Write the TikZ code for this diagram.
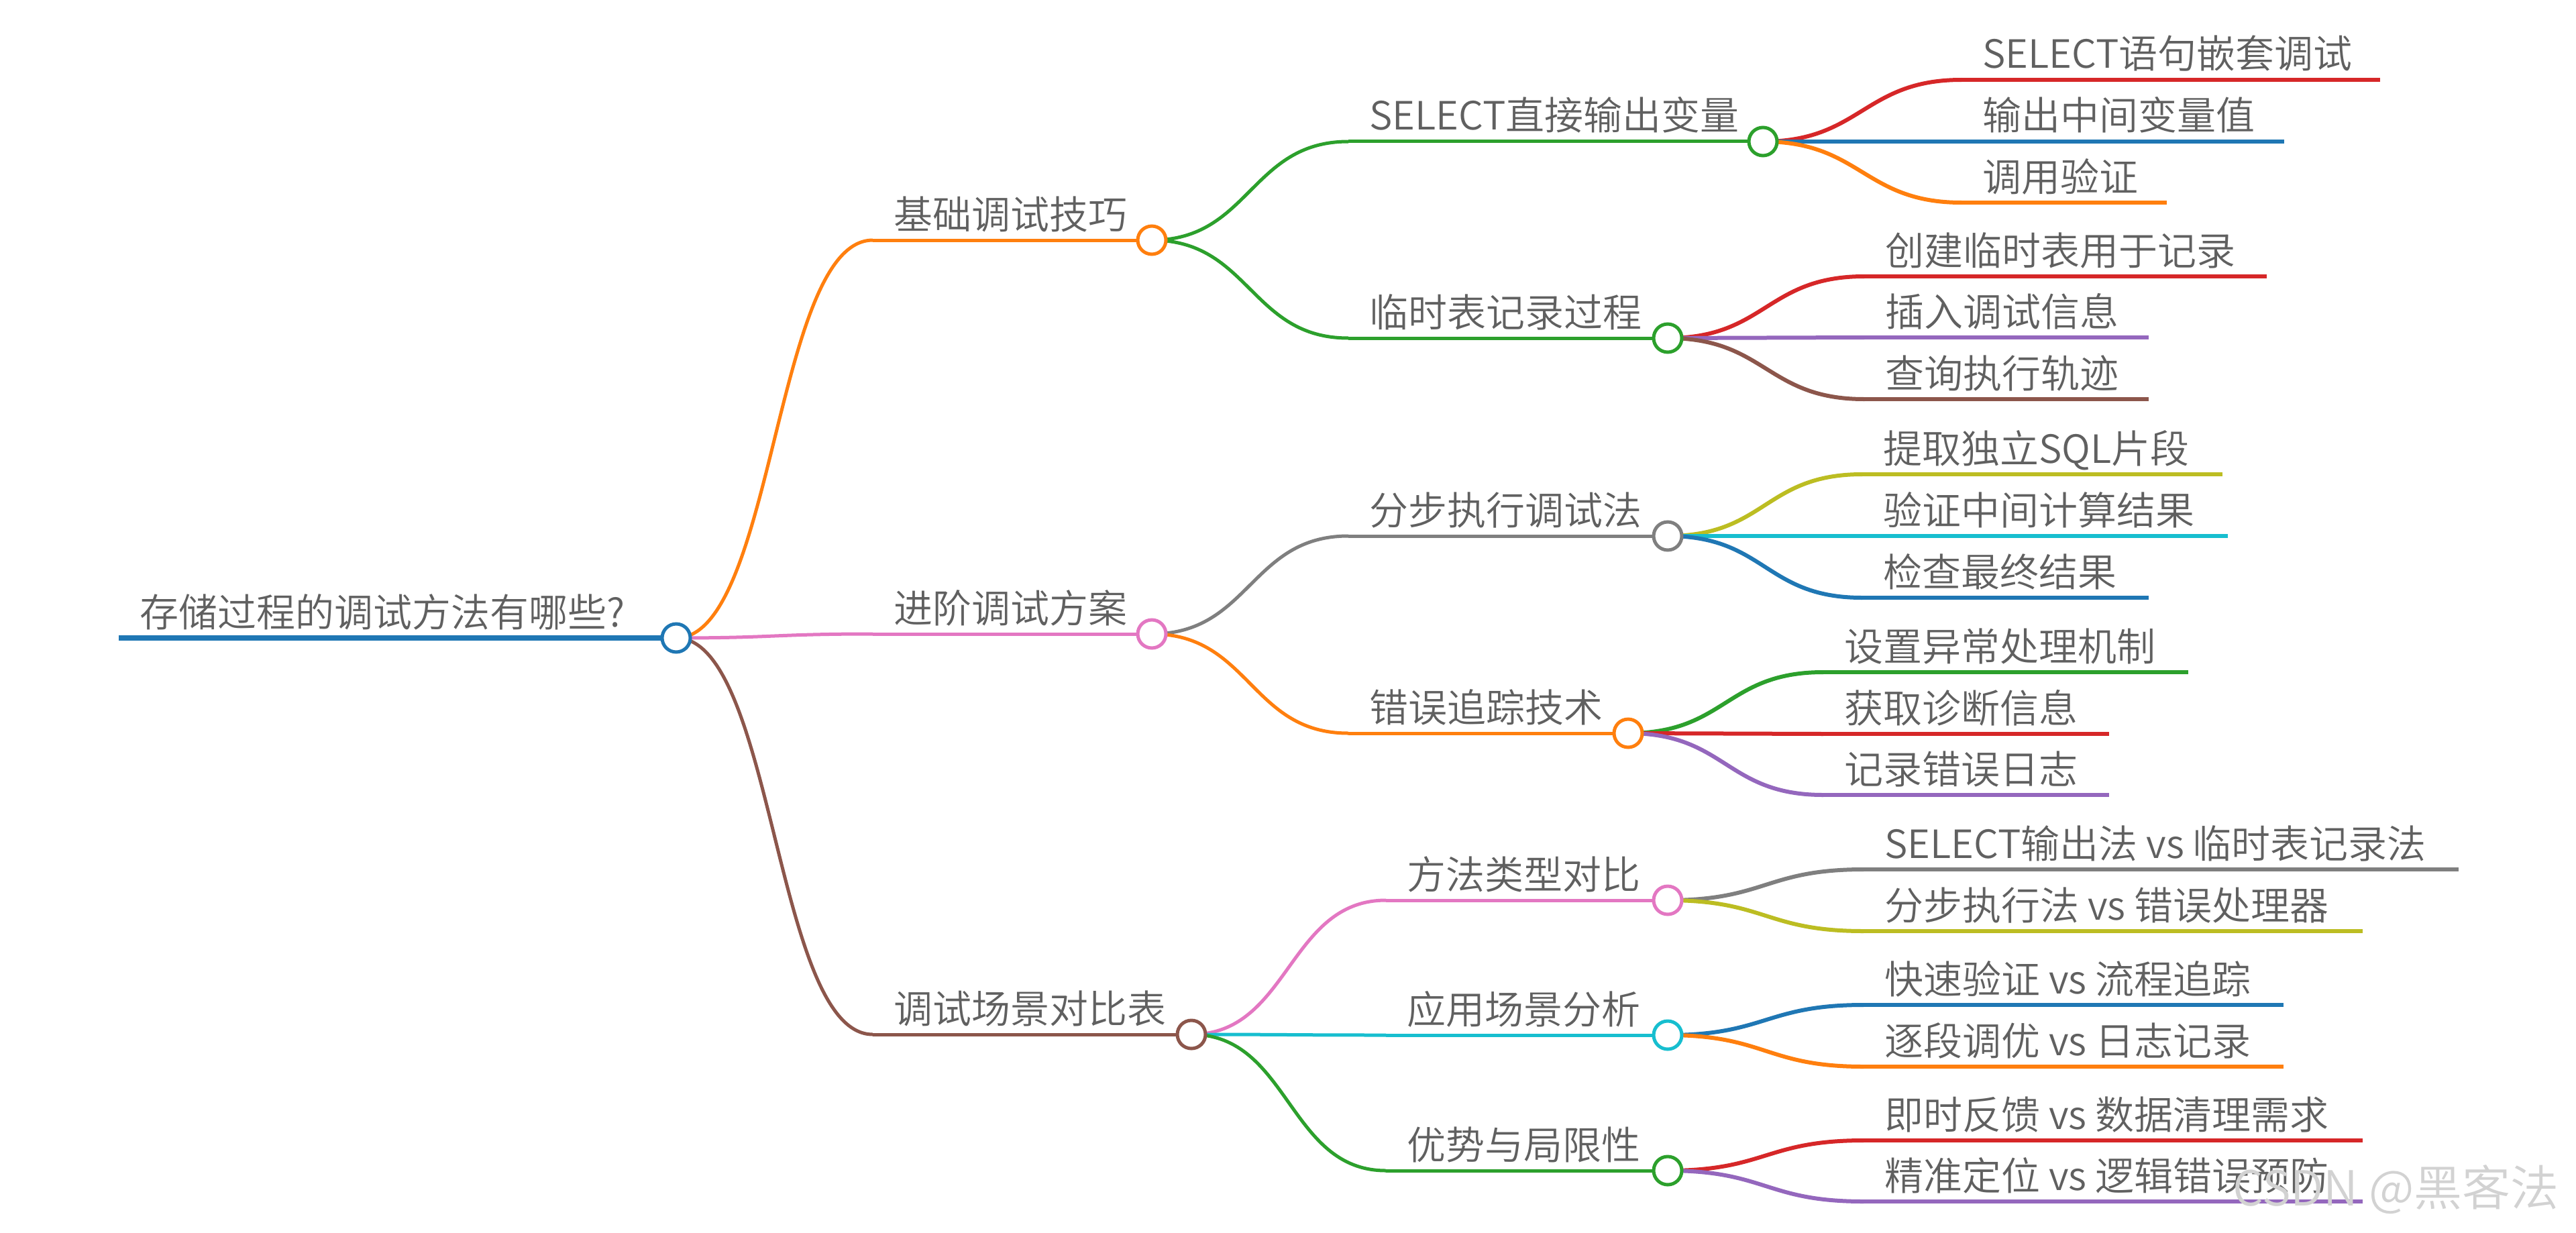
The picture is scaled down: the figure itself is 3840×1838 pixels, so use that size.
\documentclass[tikz,border=0pt]{standalone}
\usepackage{fontspec}
\setmainfont{Noto Sans CJK SC}[UprightFont={* DemiLight}]
\definecolor{mblue}{HTML}{1F77B4}
\definecolor{morange}{HTML}{FF7F0E}
\definecolor{mgreen}{HTML}{2CA02C}
\definecolor{mred}{HTML}{D62728}
\definecolor{mpurple}{HTML}{9467BD}
\definecolor{mbrown}{HTML}{8C564B}
\definecolor{mpink}{HTML}{E377C2}
\definecolor{mgray}{HTML}{7F7F7F}
\definecolor{molive}{HTML}{BCBD22}
\definecolor{mcyan}{HTML}{17BECF}
\definecolor{txt}{HTML}{606060}
\definecolor{wmark}{HTML}{D2D2D2}
\tikzset{
  lbl/.style={anchor=base west, inner sep=0pt, text=txt, font=\fontsize{58}{62}\selectfont},
  l0/.style={line width=7.5pt},
  l1/.style={line width=5pt},
  l2/.style={line width=5pt},
  l3/.style={line width=6pt},
  dot/.style={circle, draw, fill=white, line width=5pt, minimum size=42pt, inner sep=0pt},
  wm/.style={anchor=base west, inner sep=0pt, text=wmark, font=\fontsize{72}{76}\selectfont},
}
% name, xstart, xend, y, style, text
\newcommand\mmitem[6]{%
  \coordinate (#1s) at (#2,#4);
  \coordinate (#1e) at (#3,#4);
  \draw[#5] (#1s) -- (#1e);
  \node[lbl] (#1t) at ([shift={(31pt,17pt)}]#1s) {#6};
}
% style, parent centre, child start
\newcommand\mmlink[3]{%
  \draw[#1] (#2) .. controls +(146,0) and +(-146,0) .. (#3);
}
\begin{document}
\begin{tikzpicture}[x=1pt,y=-1pt,line cap=butt]
\useasboundingbox (0,0) rectangle (3840,1838);
\fill[white] (0,0) rectangle (3840,1838);

% root
\mmitem{R}{177}{1008}{951}{l0,mblue}{存储过程的调试方法有哪些?}

% level 1
\mmitem{P}{1301}{1717}{358}{l1,morange}{基础调试技巧}
\mmitem{Q}{1301}{1717}{945}{l1,mpink}{进阶调试方案}
\mmitem{S}{1301}{1776}{1542}{l1,mbrown}{调试场景对比表}
\mmlink{l1,morange}{Re}{Ps}
\mmlink{l1,mpink}{Re}{Qs}
\mmlink{l1,mbrown}{Re}{Ss}

% level 2
\mmitem{PA}{2010}{2628}{211}{l2,mgreen}{SELECT直接输出变量}
\mmitem{PB}{2010}{2486}{504}{l2,mgreen}{临时表记录过程}
\mmitem{QA}{2010}{2486}{799}{l2,mgray}{分步执行调试法}
\mmitem{QB}{2010}{2427}{1093}{l2,morange}{错误追踪技术}
\mmitem{SA}{2066}{2486}{1342}{l2,mpink}{方法类型对比}
\mmitem{SB}{2066}{2486}{1543}{l2,mcyan}{应用场景分析}
\mmitem{SC}{2066}{2486}{1745}{l2,mgreen}{优势与局限性}
\mmlink{l2,mgreen}{Pe}{PAs}
\mmlink{l2,mgreen}{Pe}{PBs}
\mmlink{l2,mgray}{Qe}{QAs}
\mmlink{l2,morange}{Qe}{QBs}
\mmlink{l2,mpink}{Se}{SAs}
\mmlink{l2,mcyan}{Se}{SBs}
\mmlink{l2,mgreen}{Se}{SCs}

% level 3
\mmitem{PA1}{2924}{3548}{119}{l3,mred}{SELECT语句嵌套调试}
\mmitem{PA2}{2924}{3405}{211}{l3,mblue}{输出中间变量值}
\mmitem{PA3}{2924}{3230}{302}{l3,morange}{调用验证}
\mmlink{l3,mred}{PAe}{PA1s}
\mmlink{l3,mblue}{PAe}{PA2s}
\mmlink{l3,morange}{PAe}{PA3s}

\mmitem{PB1}{2779}{3379}{412}{l3,mred}{创建临时表用于记录}
\mmitem{PB2}{2779}{3203}{503}{l3,mpurple}{插入调试信息}
\mmitem{PB3}{2779}{3203}{595}{l3,mbrown}{查询执行轨迹}
\mmlink{l3,mred}{PBe}{PB1s}
\mmlink{l3,mpurple}{PBe}{PB2s}
\mmlink{l3,mbrown}{PBe}{PB3s}

\mmitem{QA1}{2776}{3313}{707}{l3,molive}{提取独立SQL片段}
\mmitem{QA2}{2776}{3321}{799}{l3,mcyan}{验证中间计算结果}
\mmitem{QA3}{2776}{3203}{891}{l3,mblue}{检查最终结果}
\mmlink{l3,molive}{QAe}{QA1s}
\mmlink{l3,mcyan}{QAe}{QA2s}
\mmlink{l3,mblue}{QAe}{QA3s}

\mmitem{QB1}{2718}{3262}{1002}{l3,mgreen}{设置异常处理机制}
\mmitem{QB2}{2718}{3144}{1094}{l3,mred}{获取诊断信息}
\mmitem{QB3}{2718}{3144}{1185}{l3,mpurple}{记录错误日志}
\mmlink{l3,mgreen}{QBe}{QB1s}
\mmlink{l3,mred}{QBe}{QB2s}
\mmlink{l3,mpurple}{QBe}{QB3s}

\mmitem{SA1}{2778}{3665}{1296}{l3,mgray}{SELECT输出法 vs 临时表记录法}
\mmitem{SA2}{2778}{3522}{1388}{l3,molive}{分步执行法 vs 错误处理器}
\mmlink{l3,mgray}{SAe}{SA1s}
\mmlink{l3,molive}{SAe}{SA2s}

\mmitem{SB1}{2778}{3404}{1498}{l3,mblue}{快速验证 vs 流程追踪}
\mmitem{SB2}{2778}{3404}{1590}{l3,morange}{逐段调优 vs 日志记录}
\mmlink{l3,mblue}{SBe}{SB1s}
\mmlink{l3,morange}{SBe}{SB2s}

\mmitem{SC1}{2778}{3522}{1700}{l3,mred}{即时反馈 vs 数据清理需求}
\mmitem{SC2}{2778}{3522}{1791}{l3,mpurple}{精准定位 vs 逻辑错误预防}
\mmlink{l3,mred}{SCe}{SC1s}
\mmlink{l3,mpurple}{SCe}{SC2s}

% circles
\node[dot, draw=mblue] (Ro) at (Re) {};
\node[dot, draw=morange] (Po) at (Pe) {};
\node[dot, draw=mpink] (Qo) at (Qe) {};
\node[dot, draw=mbrown] (So) at (Se) {};
\node[dot, draw=mgreen] (PAo) at (PAe) {};
\node[dot, draw=mgreen] (PBo) at (PBe) {};
\node[dot, draw=mgray] (QAo) at (QAe) {};
\node[dot, draw=morange] (QBo) at (QBe) {};
\node[dot, draw=mpink] (SAo) at (SAe) {};
\node[dot, draw=mcyan] (SBo) at (SBe) {};
\node[dot, draw=mgreen] (SCo) at (SCe) {};

% watermark
\node[wm] (W) at (3328,1797) {CSDN @黑客法};
\end{tikzpicture}
\end{document}
